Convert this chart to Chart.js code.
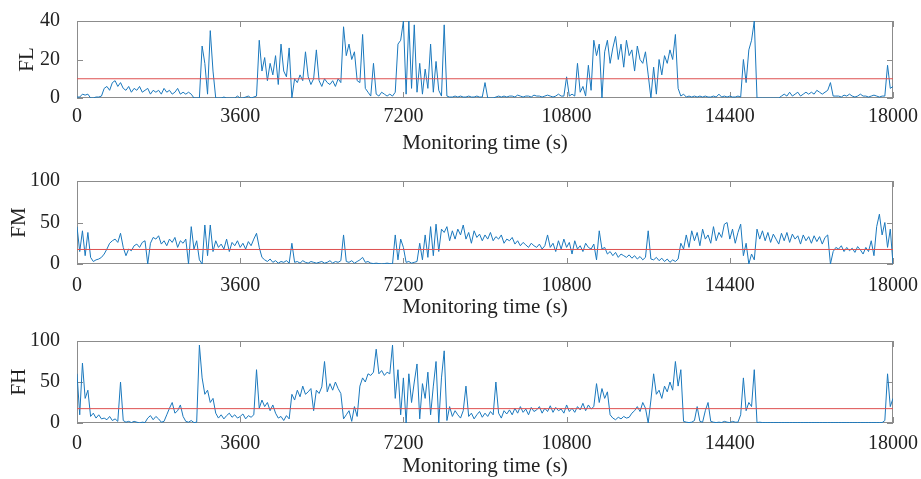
<!DOCTYPE html>
<html>
<head>
<meta charset="utf-8">
<script src="https://cdn.jsdelivr.net/npm/chart.js@4.4.0/dist/chart.umd.min.js"></script>
<style>
  html, body { margin: 0; padding: 0; background: #fff; }
  #wrap { position: relative; width: 921px; height: 479px; }
  canvas { position: absolute; left: 0; }
</style>
</head>
<body>
<div id="wrap">
  <canvas id="fl" width="921" height="156" style="top:0px"></canvas>
  <canvas id="fm" width="921" height="160" style="top:160px"></canvas>
  <canvas id="fh" width="921" height="159" style="top:320px"></canvas>
</div>
<script>
// one sample every 60 s, 0 .. 18000 s
const timeStep = 60;
const xTicks = [0, 3600, 7200, 10800, 14400, 18000];

const flValues = [
  0.5, 0.5, 2, 1.5, 2, 0, 0, 0.5, 0.5, 1,
  5, 6, 4, 8, 9, 6, 8, 5, 4, 6,
  3, 5, 4, 6, 3, 4, 5, 2, 4, 3,
  4, 2, 5, 3, 4, 2, 3, 5, 2, 3,
  2, 3, 2, 0, 0, 0, 27, 18, 2, 35,
  14, 0, 0, 0, 0.5, 0, 0, 0, 0, 1,
  0, 0, 0.5, 1, 0, 0.5, 1, 30, 14, 21,
  9, 18, 12, 22, 7, 28, 14, 11, 26, 0,
  10, 8, 12, 9, 24, 11, 7, 10, 25, 9,
  6, 10, 8, 7, 9, 6, 10, 8, 37, 22,
  28, 20, 24, 9, 8, 33, 5, 3, 1, 18,
  2, 1, 3, 2, 1, 2, 1, 3, 28, 30,
  40, 2, 40, 5, 38, 3, 18, 2, 15, 5,
  28, 3, 19, 4, 1, 38, 1, 0.5, 0.5, 1,
  0.5, 1, 0.5, 0.5, 1, 0.5, 0.5, 1, 0.5, 0.5,
  8, 0, 0, 0, 0.5, 1, 0.5, 1, 0.5, 1,
  1, 0.5, 1.5, 1, 0.5, 1, 1, 0.5, 1.5, 1,
  1, 0.5, 1, 1.5, 1, 0.5, 1, 2, 1, 1,
  11, 1, 2, 1, 18, 3, 6, 1, 17, 4,
  30, 22, 28, 0, 24, 30, 18, 26, 32, 20,
  28, 16, 30, 22, 25, 14, 27, 20, 18, 24,
  12, 0, 16, 2, 20, 12, 22, 18, 25, 20,
  33, 5, 1, 2, 0.5, 1, 0.5, 1, 0.5, 1,
  0.5, 1, 0.5, 0.5, 1, 0.5, 2, 0.5, 1, 0.5,
  1, 0.5, 0.5, 1, 0.5, 20, 8, 25, 30, 40,
  0, 0, 0, 0, 0, 0, 0, 0, 0, 1,
  2, 1, 3, 1, 2, 3, 1, 2, 3, 2,
  3, 2, 4, 3, 2, 3, 4, 8, 1, 1,
  1, 0.5, 1.5, 1, 2, 1, 0.5, 1, 2, 1,
  1, 0.5, 1, 1.5, 1, 0.5, 1, 1, 17, 5, 6
];

const fmValues = [
  45, 15, 40, 10, 38, 8, 3, 5, 6, 8,
  12, 18, 25, 28, 30, 26, 37, 20, 10, 18,
  16, 22, 24, 20, 26, 28, 0, 25, 32, 30,
  34, 24, 28, 22, 30, 26, 32, 20, 28, 25,
  30, 0, 45, 18, 28, 5, 0, 47, 10, 47,
  15, 28, 20, 24, 18, 30, 15, 26, 22, 28,
  20, 25, 18, 27, 22, 30, 37, 20, 8, 5,
  3, 6, 2, 4, 1, 3, 2, 4, 1, 25,
  2, 3, 1, 4, 2, 1, 3, 2, 1, 2,
  3, 1, 2, 4, 1, 3, 2, 4, 35, 3,
  2, 4, 1, 3, 5, 8, 2, 3, 1, 0.5,
  1, 0.5, 0, 0.5, 1, 0.5, 0, 35, 5, 30,
  20, 2, 3, 1, 2, 3, 25, 5, 35, 8,
  45, 10, 48, 15, 42, 38, 45, 28, 40, 30,
  42, 35, 47, 30, 38, 25, 40, 32, 36, 28,
  35, 30, 38, 28, 33, 30, 35, 25, 30, 28,
  32, 24, 28, 22, 26, 23, 20, 25, 22, 20,
  24, 18, 22, 35, 20, 25, 15, 28, 18, 30,
  20, 26, 12, 28, 18, 22, 15, 25, 20, 18,
  24, 5, 40, 18, 20, 12, 15, 10, 14, 8,
  12, 10, 8, 11, 7, 10, 6, 9, 5, 8,
  40, 6, 5, 8, 4, 7, 3, 6, 2, 5,
  3, 6, 25, 18, 35, 20, 40, 28, 38, 22,
  42, 30, 35, 25, 45, 28, 38, 32, 48, 50,
  30, 42, 25, 38, 48, 10, 25, 0, 12, 5,
  42, 30, 40, 28, 38, 26, 36, 30, 24, 37,
  28, 38, 26, 36, 30, 34, 24, 35, 28, 33,
  25, 34, 27, 33, 24, 32, 35, 0, 15, 20,
  18, 22, 15, 20, 16, 19, 14, 21, 17, 12,
  20, 15, 28, 10, 45, 60, 35, 50, 20, 42, 0
];

const fhValues = [
  60, 10, 73, 30, 40, 8, 12, 6, 10, 5,
  6, 4, 8, 3, 5, 2, 50, 3, 1, 2,
  0.5, 2, 1, 0, 1, 0.5, 6, 9, 4, 8,
  5, 1, 2, 10, 18, 25, 12, 15, 22, 8,
  2, 1, 3, 0.5, 1, 95, 55, 35, 40, 25,
  30, 12, 6, 10, 5, 9, 12, 7, 10, 6,
  8, 11, 5, 9, 7, 10, 65, 18, 28, 20,
  25, 15, 22, 12, 6, 8, 3, 9, 5, 35,
  28, 40, 32, 45, 35, 38, 42, 15, 40, 36,
  44, 75, 38, 48, 40, 50, 42, 36, 5, 10,
  15, 2, 20, 8, 45, 55, 50, 60, 58, 62,
  90, 60, 64, 58, 62, 60, 95, 30, 65, 10,
  55, 0, 60, 25, 50, 72, 5, 48, 30, 62,
  10, 45, 75, 0, 55, 88, 3, 20, 8, 15,
  10, 6, 15, 45, 8, 12, 5, 10, 14, 7,
  12, 8, 14, 10, 50, 12, 6, 15, 11, 16,
  10, 18, 12, 20, 13, 17, 10, 19, 14, 16,
  20, 12, 18, 14, 21, 13, 19, 15, 17, 12,
  22, 14, 18, 13, 20, 16, 24, 15, 22, 17,
  20, 48, 25, 42, 30, 38, 10, 6, 4, 7,
  5, 8, 6, 7, 12, 15, 20, 14, 25, 18,
  0, 28, 60, 35, 40, 30, 45, 38, 50, 40,
  75, 45, 65, 2, 1, 0.5, 1, 3, 20, 2,
  1, 15, 25, 2, 1, 0.5, 1, 0.5, 2, 1,
  0.5, 2, 1, 1, 10, 55, 15, 25, 20, 65,
  0.5, 1, 0.5, 0.5, 0.5, 0.5, 0.5, 0.5, 0.5, 0.5,
  0.5, 0.5, 0.5, 0.5, 0.5, 0.5, 0.5, 0.5, 0.5, 0.5,
  0.5, 0.5, 0.5, 0.5, 0.5, 0.5, 0.5, 0.5, 0.5, 0.5,
  0.5, 0.5, 0.5, 0.5, 0.5, 0.5, 0.5, 0.5, 0.5, 0.5,
  0.5, 0.5, 0.5, 0.5, 0.5, 0.5, 0.5, 3, 60, 20, 30
];

// red threshold levels
const flLimit = 10;
const fmLimit = 17.5;
const fhLimit = 17.5;

const FONT = "'Liberation Serif', 'Times New Roman', serif";

// box around the plot area with inward tick marks on all four sides
const boxPlugin = {
  id: 'box',
  beforeDatasetsDraw(chart) {
    const { ctx, chartArea: a, scales } = chart;
    ctx.save();
    ctx.strokeStyle = '#8c8c8c';
    ctx.lineWidth = 1;
    ctx.strokeRect(Math.round(a.left) + 0.5, Math.round(a.top) + 0.5,
                   Math.round(a.right - a.left) - 1, Math.round(a.bottom - a.top) - 1);
    ctx.beginPath();
    scales.x.ticks.forEach(t => {
      const px = Math.round(scales.x.getPixelForValue(t.value)) + 0.5;
      ctx.moveTo(px, a.top); ctx.lineTo(px, a.top + 6);
      ctx.moveTo(px, a.bottom); ctx.lineTo(px, a.bottom - 6);
    });
    scales.y.ticks.forEach(t => {
      const py = Math.round(scales.y.getPixelForValue(t.value)) + 0.5;
      ctx.moveTo(a.left, py); ctx.lineTo(a.left + 6, py);
      ctx.moveTo(a.right, py); ctx.lineTo(a.right - 6, py);
    });
    ctx.stroke();
    ctx.restore();
  }
};

function makePanel(id, name, values, limit, yMax, yStep, padTop, xAxisH, tickPad, titlePadX, titlePadY) {
  const points = values.map((v, i) => ({ x: i * timeStep, y: v }));
  const limitLine = [{ x: 0, y: limit }, { x: 18000, y: limit }];

  new Chart(document.getElementById(id), {
    type: 'line',
    data: {
      datasets: [
        { data: limitLine, borderColor: 'rgb(222,80,80)', borderWidth: 1, pointRadius: 0, order: 0 },
        { data: points, borderColor: '#1a78bd', borderWidth: 1, pointRadius: 0, tension: 0, order: 1 }
      ]
    },
    options: {
      responsive: false,
      animation: false,
      events: [],
      layout: { padding: { top: padTop, right: 28, left: 0, bottom: 0 } },
      plugins: { legend: { display: false }, tooltip: { enabled: false } },
      scales: {
        x: {
          type: 'linear',
          min: 0,
          max: 18000,
          grid: { display: false },
          border: { display: false },
          afterBuildTicks: s => { s.ticks = xTicks.map(v => ({ value: v })); },
          afterFit: s => { s.height = xAxisH; },
          ticks: { autoSkip: false, maxRotation: 0, padding: tickPad, color: '#222',
                   callback: v => String(v),
                   font: { family: FONT, size: 20 } },
          title: { display: true, text: 'Monitoring time (s)', color: '#222',
                   padding: { top: 0, bottom: titlePadY },
                   font: { family: FONT, size: 21 } }
        },
        y: {
          min: 0,
          max: yMax,
          grid: { display: false },
          border: { display: false },
          afterFit: s => { s.width = 77; },
          ticks: { stepSize: yStep, padding: 9, color: '#222',
                   callback: v => String(v),
                   font: { family: FONT, size: 20 } },
          title: { display: true, text: name, color: '#222',
                   padding: { top: titlePadX, bottom: 0 },
                   font: { family: FONT, size: 21 } }
        }
      }
    },
    plugins: [boxPlugin]
  });
}

makePanel('fl', 'FL', flValues, flLimit, 40, 20, 14, 58, -1, 15, 0);
makePanel('fm', 'FM', fmValues, fmLimit, 100, 50, 18, 56, 2, 7, 0);
makePanel('fh', 'FH', fhValues, fhLimit, 100, 50, 18, 56, 1, 7, 0);
</script>
</body>
</html>
